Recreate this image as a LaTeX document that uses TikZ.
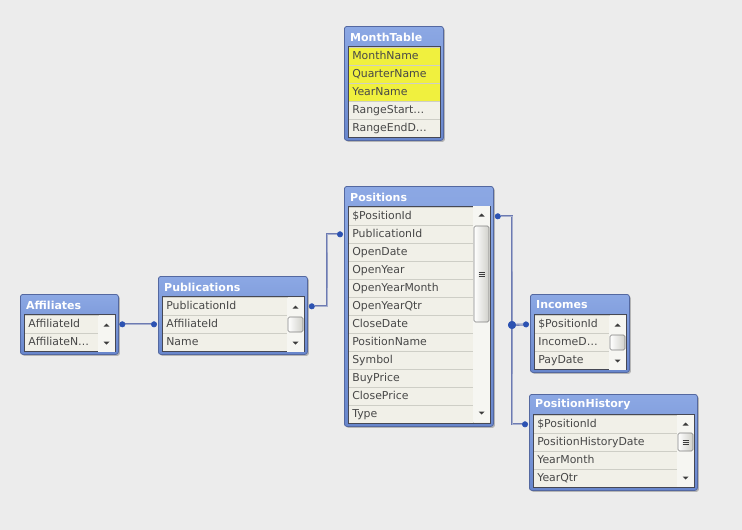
\documentclass[tikz,border=0pt]{standalone}
\usepackage{fontspec}
\setmainfont{DejaVu Sans}
\usetikzlibrary{arrows.meta,calc,shadows}

\definecolor{canvas}{RGB}{236,236,236}
\definecolor{titletop}{RGB}{140,168,228}
\definecolor{titlebottom}{RGB}{104,134,204}
\definecolor{framedark}{RGB}{84,104,160}
\definecolor{bodydark}{RGB}{70,72,84}
\definecolor{rowfill}{RGB}{241,240,232}
\definecolor{rowline}{RGB}{206,206,198}
\definecolor{fieldtext}{RGB}{72,72,72}
\definecolor{keyyellow}{RGB}{240,240,62}
\definecolor{linkblue}{RGB}{108,122,178}
\definecolor{linklight}{RGB}{168,176,206}
\definecolor{dotblue}{RGB}{44,82,178}
\definecolor{scrollfill}{RGB}{246,246,242}
\definecolor{thumbedge}{RGB}{128,128,128}
\definecolor{thumbshade}{RGB}{208,208,202}
\definecolor{arrowgray}{RGB}{60,60,60}

\tikzset{
  tablebox/.style={anchor=north west, draw=framedark, line width=0.8pt, rounded corners=2.5pt,
    top color=titletop, bottom color=titlebottom, inner sep=0pt,
    drop shadow={shadow xshift=1.5pt, shadow yshift=-1.5pt, opacity=0.5}},
  tabletitle/.style={anchor=west, inner sep=0pt, text=white, font=\bfseries\fontsize{11}{13}\selectfont},
  field/.style={anchor=north west, draw=rowline, line width=0.6pt, text=fieldtext, inner xsep=4pt,
    inner ysep=0pt, minimum height=18pt, text height=8pt, text depth=2.5pt, align=left,
    font=\fontsize{10.9}{12}\selectfont},
  bodyedge/.style={draw=bodydark, line width=0.8pt},
  thumb/.style={draw=thumbedge, line width=0.6pt, rounded corners=1.5pt, left color=white, right color=thumbshade},
  gripline/.style={draw=arrowgray, line width=0.6pt},
  link/.style={draw=linkblue, line width=0.6pt, double=linklight, double distance=0.9pt,
    arrows={Circle[length=6pt,width=6pt,color=dotblue]-Circle[length=6pt,width=6pt,color=dotblue]}},
  endlink/.style={draw=linkblue, line width=0.6pt, double=linklight, double distance=0.9pt,
    arrows={-Circle[length=6pt,width=6pt,color=dotblue]}},
  junction/.style={circle, fill=dotblue, inner sep=0pt, minimum size=8pt}
}

\newcommand{\qvtable}[8][0]{%
  \foreach \f [count=\n] in {#8} {\xdef\qvrows{\n}}
  \pgfmathsetmacro\qvbot{#4+24+18*\qvrows}
  \pgfmathsetmacro\qvw{#5-#3}
  \pgfmathsetmacro\qvh{\qvbot-#4}
  \pgfmathsetmacro\qvfw{#6-#3-4}
  \pgfmathsetmacro\qvtw{#6-#3-12}
  \node[tablebox, minimum width=\qvw pt, minimum height=\qvh pt] (#2) at (#3,#4) {};
  \node[tabletitle] (#2-title) at (#3+6,#4+11) {#7};
  \fill[rowfill] (#3+4,#4+20) rectangle (#5-3,\qvbot-3);
  \foreach \f [count=\i] in {#8} {
    \ifnum\i>#1\relax\def\qvfill{rowfill}\else\def\qvfill{keyyellow}\fi
    \pgfmathsetmacro\qvtop{#4+21+18*(\i-1)}
    \node[field, fill=\qvfill, minimum width=\qvfw pt, text width=\qvtw pt] (#2-\i) at (#3+4,\qvtop) {\f};
  }
  \draw[bodyedge] (#3+4,#4+20) rectangle (#5-3,\qvbot-3);
}

\newcommand{\qvscroll}[7]{%
  \pgfmathsetmacro\qvmid{(#1+#2)/2}
  \fill[scrollfill] (#1,#3) rectangle (#2,#4);
  \ifnum#5>0
    \draw[thumb] (#1+1,#5) rectangle (#2-1,#6);
  \fi
  \ifnum#7>0
    \pgfmathsetmacro\qvgrip{(#5+#6)/2}
    \foreach \d in {-2,0,2}
      \draw[gripline] (\qvmid-3,\qvgrip+\d) -- (\qvmid+3,\qvgrip+\d);
  \fi
  \fill[arrowgray] (\qvmid-3,#3+10.5) -- (\qvmid+3,#3+10.5) -- (\qvmid,#3+7.5) -- cycle;
  \fill[arrowgray] (\qvmid-3,#4-10.5) -- (\qvmid+3,#4-10.5) -- (\qvmid,#4-7.5) -- cycle;
}

\begin{document}
\begin{tikzpicture}[x=1pt,y=-1pt]
\useasboundingbox (0,0) rectangle (742,530);
\fill[canvas] (0,0) rectangle (742,530);

\qvtable[3]{mt}{344}{26}{443}{440}{MonthTable}{MonthName,QuarterName,YearName,RangeStart\ldots,RangeEndD\ldots}

\qvtable{pos}{344}{186}{493}{473}{Positions}{\$PositionId,PublicationId,OpenDate,OpenYear,OpenYearMonth,OpenYearQtr,CloseDate,PositionName,Symbol,BuyPrice,ClosePrice,Type}
\qvscroll{473}{490}{206}{422}{226}{322}{1}

\qvtable{pub}{158}{276}{307}{287}{Publications}{PublicationId,AffiliateId,Name}
\qvscroll{287}{304}{298}{352}{317}{332}{0}

\qvtable{aff}{20}{294}{118}{98}{Affiliates}{AffiliateId,AffiliateN\ldots}
\qvscroll{98}{115}{316}{352}{0}{0}{0}

\qvtable{inc}{530}{294}{629}{609}{Incomes}{\$PositionId,IncomeD\ldots,PayDate}
\qvscroll{609}{626}{316}{370}{335}{350}{0}

\qvtable{ph}{529}{394}{697}{677}{PositionHistory}{\$PositionId,PositionHistoryDate,YearMonth,YearQtr}
\qvscroll{677}{694}{415}{487}{433}{451}{1}

\draw[link] ($(aff-1.east -| aff.east)+(0.5,0)$) -- ($(pub-2.west -| pub.west)+(-1,0)$);

\coordinate (pubbend) at (327,270);
\draw[link] ($(pub-1.east -| pub.east)+(1,0)$) -| (pubbend) |- ($(pos-2.west -| pos.west)+(-1,0)$);

\node[junction] (jn) at (512,325) {};
\draw[link] ($(pos-1.east -| pos.east)+(1,0)$) -| (jn.center) |- ($(ph-1.west -| ph.west)+(-1,0)$);
\draw[endlink] (jn.center) -- ($(inc-1.west -| inc.west)+(-1,0)$);
\node[junction] at (jn) {};
\end{tikzpicture}
\end{document}
